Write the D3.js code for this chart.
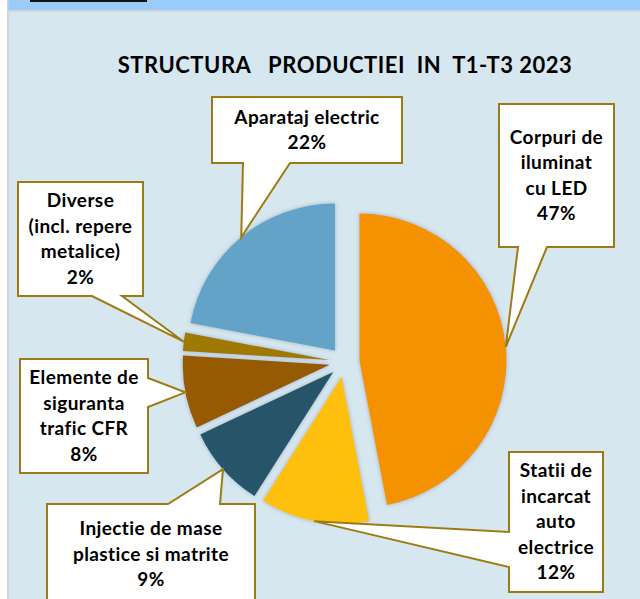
<!DOCTYPE html>
<html>
<head>
<meta charset="utf-8">
<script src="https://cdn.jsdelivr.net/npm/d3@7"></script>
<style>
  html, body { margin: 0; padding: 0; background: #fff; }
  svg { display: block; }
</style>
</head>
<body>
<div id="chart"></div>
<script>
// data (clockwise from 12 o'clock)
const categories = ["Corpuri de\niluminat\ncu LED", "Statii de\nincarcat\nauto\nelectrice",
  "Injectie de mase\nplastice si matrite", "Elemente de\nsiguranta\ntrafic CFR",
  "Diverse\n(incl. repere\nmetalice)", "Aparataj electric"];
const shares = [47, 12, 9, 8, 2, 22];
const colors = ["#f59200", "#fec00d", "#265569", "#965a00", "#9f7900", "#62a3c7"];
const title = "STRUCTURA   PRODUCTIEI  IN  T1-T3 2023";

// callout boxes: [x, y, w, h], side of the pointer, pointer base along that side
const boxes = [
  {r: [499, 104, 115, 143], side: "bottom", base: [518, 547]},
  {r: [509, 452, 94, 140], side: "left", base: [532, 567]},
  {r: [47, 504, 208, 120], side: "top", base: [168, 220]},
  {r: [20, 359, 128, 114], side: "right", base: [378, 407]},
  {r: [18, 182, 125, 114], side: "bottom", base: [92, 122]},
  {r: [212, 97, 190, 66], side: "bottom", base: [243, 290]}
];

const width = 640, height = 599;
const cx = 344.5, cy = 362, radius = 147, explode = 15;
const font = "Lato, 'Open Sans', sans-serif";

const svg = d3.select("#chart").append("svg")
    .attr("width", width)
    .attr("height", height);

// frame: white strip left, blue strip on top
svg.append("rect").attr("width", width).attr("height", height).attr("fill", "#ffffff");
svg.append("rect").attr("x", 8).attr("y", 0).attr("width", width - 8).attr("height", height).attr("fill", "#d7e7f0");
svg.append("rect").attr("x", 8).attr("y", 0).attr("width", width - 8).attr("height", 10).attr("fill", "#9bcbfa");
svg.append("rect").attr("x", 8).attr("y", 10).attr("width", width - 8).attr("height", 2).attr("fill", "#cfd6db");
svg.append("rect").attr("x", 7).attr("y", 0).attr("width", 1.5).attr("height", height).attr("fill", "#d0d0d0");
svg.append("rect").attr("x", 30).attr("y", 0).attr("width", 117).attr("height", 2).attr("fill", "#111");

svg.append("text")
    .attr("x", 345)
    .attr("y", 73)
    .attr("text-anchor", "middle")
    .attr("font-family", font)
    .attr("font-weight", "bold")
    .attr("font-size", 22)
    .attr("letter-spacing", 0.5)
    .attr("fill", "#000")
    .style("white-space", "pre")
    .attr("xml:space", "preserve")
    .text(title);

// soft shadow round the slices
const defs = svg.append("defs");
const f = defs.append("filter").attr("id", "shadow")
    .attr("x", "-20%").attr("y", "-20%").attr("width", "140%").attr("height", "140%");
f.append("feDropShadow").attr("dx", 0).attr("dy", 0).attr("stdDeviation", 2)
    .attr("flood-color", "#6f8ea3").attr("flood-opacity", 0.6);

const pie = d3.pie().sort(null).value(d => d);
const arcs = pie(shares);
const arc = d3.arc().innerRadius(0).outerRadius(radius);

function offset(d, k) {
    const a = (d.startAngle + d.endAngle) / 2;
    return [Math.sin(a) * k, -Math.cos(a) * k];
}

const g = svg.append("g").attr("transform", `translate(${cx},${cy})`);

g.selectAll("path.slice")
    .data(arcs)
    .enter().append("path")
    .attr("class", "slice")
    .attr("d", arc)
    .attr("fill", (d, i) => colors[i])
    .attr("filter", "url(#shadow)")
    .attr("transform", d => {
        const o = offset(d, explode);
        return `translate(${o[0]},${o[1]})`;
    });

// callouts
arcs.forEach((d, i) => {
    const b = boxes[i];
    const [x, y, w, h] = b.r;
    const o = offset(d, explode);
    const e = offset(d, radius);
    const tx = cx + o[0] + e[0], ty = cy + o[1] + e[1];
    let pts;
    if (b.side === "bottom") {
        pts = [[x, y], [x + w, y], [x + w, y + h], [b.base[1], y + h], [tx, ty], [b.base[0], y + h], [x, y + h]];
    } else if (b.side === "top") {
        pts = [[x, y], [b.base[0], y], [tx, ty], [b.base[1], y], [x + w, y], [x + w, y + h], [x, y + h]];
    } else if (b.side === "left") {
        pts = [[x, y], [x + w, y], [x + w, y + h], [x, y + h], [x, b.base[1]], [tx, ty], [x, b.base[0]]];
    } else {
        pts = [[x, y], [x + w, y], [x + w, b.base[0]], [tx, ty], [x + w, b.base[1]], [x + w, y + h], [x, y + h]];
    }
    svg.append("path")
        .attr("d", d3.line()(pts) + "Z")
        .attr("fill", "#fff")
        .attr("stroke", "#9e7b12")
        .attr("stroke-width", 2)
        .attr("stroke-linejoin", "miter");

    const lines = categories[i].split("\n").concat([shares[i] + "%"]);
    const lh = 25.5;
    const top = y + (b.side === "top" ? 31 : (h - lines.length * lh) / 2 + 19);
    const t = svg.append("text")
        .attr("text-anchor", "middle")
        .attr("font-family", font)
        .attr("font-weight", "bold")
        .attr("font-size", 19)
        .attr("letter-spacing", 0.4)
        .attr("fill", "#000");
    lines.forEach((s, j) => {
        t.append("tspan").attr("x", x + w / 2).attr("y", top + j * lh).text(s);
    });
});
</script>
</body>
</html>
